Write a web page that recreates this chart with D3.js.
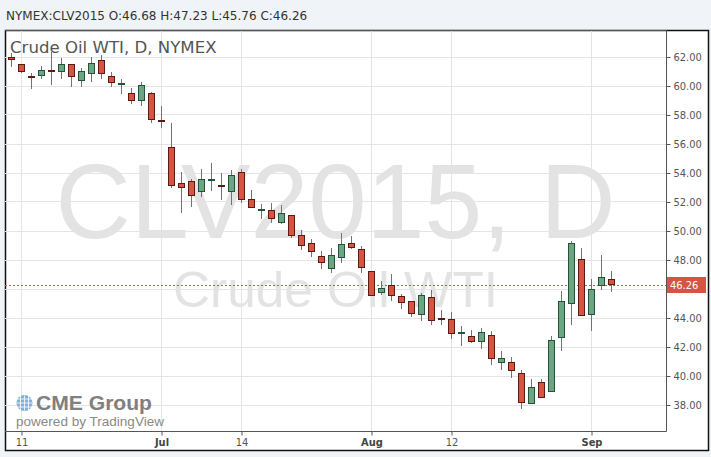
<!DOCTYPE html>
<html><head><meta charset="utf-8">
<script src="https://cdn.jsdelivr.net/npm/d3@7"></script>
<style>body{margin:0;background:#f0f3f7;}svg{display:block;}</style>
</head><body><svg id="c" width="711" height="457"></svg>
<script>
const openVals = [61.98,61.50,60.64,60.67,61.07,60.88,61.50,60.33,60.83,61.77,60.67,60.18,59.50,58.95,59.50,57.62,55.77,53.29,53.43,52.67,53.43,53.11,52.67,54.05,52.19,51.49,51.43,50.53,51.08,49.66,49.15,48.26,47.36,48.12,49.15,48.74,47.22,45.70,46.26,45.50,45.15,44.19,45.43,43.96,43.91,42.88,42.74,42.32,42.81,40.88,40.95,40.19,38.05,39.57,38.88,42.60,44.95,48.05,44.19,46.18,46.68];
const highVals = [62.30,61.52,60.92,61.38,62.37,61.91,61.52,61.22,62.02,62.14,60.97,60.46,59.84,60.26,59.61,58.62,57.47,54.09,53.59,54.28,54.71,54.00,54.21,54.28,52.83,51.86,51.91,51.77,51.08,50.07,49.45,48.62,48.83,49.84,49.66,48.97,47.22,46.53,47.01,45.66,45.15,45.71,45.93,44.55,44.41,43.45,43.15,43.31,43.08,41.73,41.29,40.41,39.79,39.79,42.76,45.86,49.31,48.81,46.69,48.35,47.23];
const lowVals = [61.29,60.88,59.81,60.50,60.09,60.46,59.95,59.95,60.30,60.46,59.95,59.43,58.74,58.64,57.47,57.10,52.99,51.26,51.68,52.37,52.78,52.14,51.81,51.95,51.57,50.85,50.58,50.47,49.52,48.69,48.19,47.36,47.08,47.77,48.74,47.08,45.50,45.59,45.19,44.60,44.09,43.81,43.50,43.50,42.57,42.09,42.26,41.88,40.78,40.44,39.84,37.70,38.05,38.47,38.88,41.75,43.54,44.12,43.13,45.93,45.76];
const closeVals = [61.77,60.95,60.62,61.08,61.05,61.45,60.60,61.01,61.57,60.83,60.19,60.20,58.95,60.05,57.64,57.60,53.08,52.95,52.37,53.57,53.57,53.09,53.84,52.12,51.57,51.51,50.81,51.22,49.61,48.88,48.51,47.77,48.33,49.08,48.81,47.40,45.50,46.05,45.50,45.01,44.26,45.57,43.77,43.94,42.88,43.01,42.32,43.01,41.15,41.22,40.33,38.12,39.22,38.47,42.46,45.15,49.15,44.12,45.98,46.78,46.26];
const xTickIndex = [1, 15, 23, 36, 44, 58];
const xTickLabels = ["11", "Jul", "14", "Aug", "12", "Sep"];
const xTickBold = [false, true, false, true, false, true];
const yTicks = [38, 40, 42, 44, 46, 48, 50, 52, 54, 56, 58, 60, 62];
const yHiddenLabel = 46; // covered by the last-price label
const lastPrice = 46.26;
const headerText = "NYMEX:CLV2015 O:46.68 H:47.23 L:45.76 C:46.26";
const titleText = "Crude Oil WTI, D, NYMEX";
const wmBig = "CLV2015, D";
const wmSmall = "Crude Oil WTI";

const svg = d3.select("#c");
const P = {l: 5, t: 30, r: 666, b: 431};
const x = d3.scaleLinear().domain([0, 60]).range([11.5, 611.5]);
const y = d3.scaleLinear().domain([38, 62]).range([405, 57]);
const snap = v => Math.round(v) + 0.5;

// background panel
svg.append("rect").attr("x", 0).attr("y", 0).attr("width", 711).attr("height", 457).attr("fill", "#f0f3f7");
svg.append("rect").attr("x", 5.5).attr("y", 30.5).attr("width", 703).attr("height", 420)
  .attr("fill", "#fff").attr("stroke", "#111").attr("stroke-width", 1.5);

// header
svg.append("text").attr("x", 6).attr("y", 20).attr("font-family", "DejaVu Sans").attr("font-size", 12)
  .attr("fill", "#333").text(headerText);

// grid
const g = svg.append("g");
g.selectAll("line.h").data(yTicks).join("line")
  .attr("x1", P.l).attr("x2", P.r).attr("y1", d => snap(y(d) - 0.5)).attr("y2", d => snap(y(d) - 0.5))
  .attr("stroke", "#e4e4e4");
g.selectAll("line.v").data(xTickIndex).join("line")
  .attr("x1", d => x(d)).attr("x2", d => x(d)).attr("y1", P.t).attr("y2", P.b)
  .attr("stroke", "#e4e4e4");

// watermark
const cx = (P.l + P.r) / 2;
svg.append("text").attr("x", cx).attr("y", 238).attr("text-anchor", "middle")
  .attr("font-family", "Liberation Sans").attr("font-size", 106).attr("fill", "#e3e3e3")
  .attr("textLength", 560).attr("lengthAdjust", "spacingAndGlyphs").text(wmBig);
svg.append("text").attr("x", cx).attr("y", 306.5).attr("text-anchor", "middle")
  .attr("font-family", "Liberation Sans").attr("font-size", 50).attr("fill", "#e3e3e3")
  .attr("textLength", 325).attr("lengthAdjust", "spacingAndGlyphs").text(wmSmall);

// title
svg.append("text").attr("x", 10).attr("y", 53).attr("font-family", "DejaVu Sans").attr("font-size", 16.6)
  .attr("fill", "#555").text(titleText);

// last price line
svg.append("line").attr("x1", P.l).attr("x2", P.r).attr("y1", snap(y(lastPrice) - 0.5)).attr("y2", snap(y(lastPrice) - 0.5))
  .attr("stroke", "#d75442").attr("stroke-dasharray", "2,2");

// candles
const data = openVals.map((o, i) => ({i, o, h: highVals[i], l: lowVals[i], c: closeVals[i]}));
const cg = svg.append("g");
cg.selectAll("line.w").data(data).join("line")
  .attr("x1", d => x(d.i)).attr("x2", d => x(d.i))
  .attr("y1", d => Math.round(y(d.h))).attr("y2", d => Math.round(y(d.l)))
  .attr("stroke", "#737375");
cg.selectAll("rect.b").data(data).join("rect")
  .attr("x", d => x(d.i) - 3).attr("width", 6)
  .attr("y", d => snap(y(Math.max(d.o, d.c)) - 0.5))
  .attr("height", d => Math.max(1, Math.round(Math.abs(y(d.o) - y(d.c))) - 1))
  .attr("fill", d => d.c >= d.o ? "#6ba583" : "#d75442")
  .attr("stroke", d => d.c >= d.o ? "#225437" : "#5b1a13");

// plot box
svg.append("path").attr("d", `M${P.l},${P.t + 0.5}H${P.r + 0.5}V${P.b + 0.5}H${P.l}`)
  .attr("fill", "none").attr("stroke", "#555");

// y axis
const ya = svg.append("g").attr("transform", `translate(${P.r + 0.5},0)`)
  .call(d3.axisRight(y).tickValues(yTicks).tickSize(4).tickPadding(3)
    .tickFormat(d => d === yHiddenLabel ? "" : d3.format(".2f")(d)));
ya.select(".domain").remove();
ya.selectAll("line").attr("stroke", "#555");
ya.selectAll("text").attr("font-family", "DejaVu Sans Condensed").attr("font-size", 11).attr("fill", "#555");

// last price label
const ly = y(lastPrice);
svg.append("rect").attr("x", 667).attr("y", Math.round(ly) - 8).attr("width", 39).attr("height", 16).attr("fill", "#d75442");
svg.append("text").attr("x", 670).attr("y", ly).attr("dy", "0.35em").attr("font-family", "DejaVu Sans Condensed")
  .attr("font-size", 11).attr("fill", "#fff").text(lastPrice.toFixed(2));

// x axis
const xa = svg.append("g").attr("transform", `translate(0,${P.b + 0.5})`)
  .call(d3.axisBottom(x).tickValues(xTickIndex).tickSize(4).tickPadding(3).tickFormat((d, k) => xTickLabels[k]));
xa.select(".domain").remove();
xa.selectAll("line").attr("stroke", "#555");
xa.selectAll("text").attr("font-family", "DejaVu Sans Condensed").attr("font-size", 11)
  .attr("fill", (d, k) => xTickBold[k] ? "#444" : "#555")
  .attr("font-weight", (d, k) => xTickBold[k] ? "bold" : "normal");

// CME logo
const logo = svg.append("g");
logo.append("circle").attr("cx", 24.5).attr("cy", 403).attr("r", 8).attr("fill", "#7fb2dd");
[-4, 0, 4].forEach(dx => logo.append("line").attr("x1", 24.5 + dx).attr("x2", 24.5 + dx).attr("y1", 395.5).attr("y2", 410.5).attr("stroke", "#fff").attr("stroke-width", 0.8));
[-4, 0, 4].forEach(dy => logo.append("line").attr("x1", 17).attr("x2", 32).attr("y1", 403 + dy).attr("y2", 403 + dy).attr("stroke", "#fff").attr("stroke-width", 0.8));
logo.append("text").attr("x", 36).attr("y", 409.5).attr("font-family", "Liberation Sans").attr("font-weight", "bold")
  .attr("font-size", 20).attr("fill", "#808080").attr("textLength", 116).attr("lengthAdjust", "spacingAndGlyphs").text("CME Group");
logo.append("text").attr("x", 16).attr("y", 426).attr("font-family", "Liberation Sans")
  .attr("font-size", 13).attr("fill", "#8a8a8a").attr("textLength", 148).attr("lengthAdjust", "spacingAndGlyphs").text("powered by TradingView");
</script></body></html>
